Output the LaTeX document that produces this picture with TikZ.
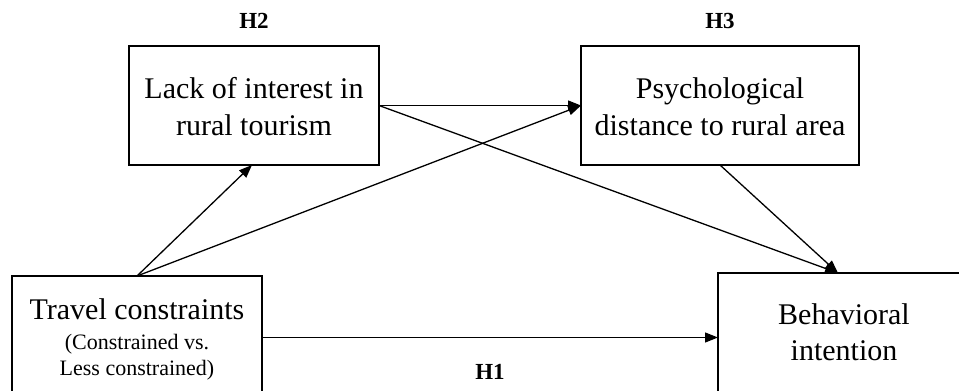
\documentclass[tikz,border=0pt]{standalone}
\usepackage{fontspec}
\setmainfont{Liberation Serif}
\usetikzlibrary{arrows.meta}
\begin{document}
\begin{tikzpicture}[x=1pt,y=-1pt,
  box/.style={draw,line width=1.3pt,inner sep=0pt,outer sep=0pt},
  main/.style={anchor=base,inner sep=0pt,font=\fontsize{30}{36}\selectfont},
  sub/.style={anchor=base,inner sep=0pt,font=\fontsize{22}{26}\selectfont},
  hyp/.style={inner sep=0pt,font=\fontsize{23}{27}\selectfont\bfseries},
  arr/.style={line width=1.3pt,-{Triangle[length=13pt,width=10pt]}}]
\useasboundingbox (0,0) rectangle (959,391);
\clip (0,0) rectangle (959,391);
\fill[white] (0,0) rectangle (959,391);

% boxes
\node[box,minimum width=250pt,minimum height=119pt] (lack) at (254,105.5) {};
\node[box,minimum width=278pt,minimum height=119pt] (psy) at (720,105.5) {};
\node[box,minimum width=250pt,minimum height=123pt] (trav) at (137,337.5) {};
\node[box,minimum width=252pt,minimum height=129pt] (beh) at (844,337.5) {};

% box texts
\node[main] (lack1) at (254,98) {Lack of interest in};
\node[main] (lack2) at (254,135) {rural tourism};
\node[main] (psy1) at (720,98) {Psychological};
\node[main] (psy2) at (720,135) {distance to rural area};
\node[main] (trav1) at (137,319) {Travel constraints};
\node[sub] (trav2) at (137,349) {(Constrained vs.};
\node[sub] (trav3) at (137,375) {Less constrained)};
\node[main] (beh1) at (844,324) {Behavioral};
\node[main] (beh2) at (844,360) {intention};

% hypothesis labels
\node[hyp] (h2) at (254,21) {H2};
\node[hyp] (h3) at (720,21) {H3};
\node[hyp] (h1) at (490,372) {H1};

% paths
\draw[arr] (trav.north) -- ([xshift=-2pt]lack.south);
\draw[arr] (trav.north) -- (psy.west);
\draw[arr] (lack.east) -- (psy.west);
\draw[arr] (lack.east) -- ([xshift=-6pt]beh.north);
\draw[arr] (psy.south) -- ([xshift=-6pt]beh.north);
\draw[arr] (trav.east) -- (beh.west);
\end{tikzpicture}
\end{document}
